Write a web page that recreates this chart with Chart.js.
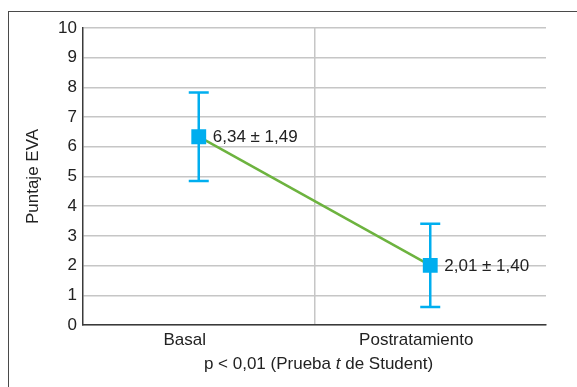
<!DOCTYPE html>
<html>
<head>
<meta charset="utf-8">
<script src="https://cdn.jsdelivr.net/npm/chart.js@4"></script>
<style>
  html, body { margin: 0; padding: 0; background: #fff; overflow: hidden; }
  .frame { position: absolute; left: 8px; top: 11px; width: 600px; height: 400px;
           border-left: 1.5px solid #4a4a4a; border-top: 1.5px solid #4a4a4a; }
  .wrap { position: absolute; left: 0; top: 0; width: 577px; height: 387px; }
</style>
</head>
<body>
<div class="frame"></div>
<div class="wrap"><canvas id="c" width="577" height="387"></canvas></div>
<script>
// valores EVA medios y desviación estándar
const categorias = ['Basal', 'Postratamiento'];
const medias = [6.34, 2.01];
const desvios = [1.49, 1.40];
const yTicks = [0, 1, 2, 3, 4, 5, 6, 7, 8, 9, 10];

const AZUL = '#00aeef';
const VERDE = '#6db33f';
const GRIS = '#c6c6c6';
const TEXTO = '#222';
const FONT = 'Liberation Sans, Arial, sans-serif';
const FS = 17;

const fmt = v => v.toFixed(2).replace('.', ',');

// barras de error + etiquetas de valor
const errorBars = {
  id: 'errorBars',
  afterDatasetsDraw(chart) {
    const { ctx, scales: { x, y } } = chart;
    ctx.save();
    ctx.strokeStyle = AZUL;
    ctx.lineWidth = 2.5;
    medias.forEach((m, i) => {
      const px = x.getPixelForValue(i);
      const top = y.getPixelForValue(m + desvios[i]);
      const bot = y.getPixelForValue(m - desvios[i]);
      ctx.beginPath();
      ctx.moveTo(px, top); ctx.lineTo(px, bot);
      ctx.moveTo(px - 10, top); ctx.lineTo(px + 10, top);
      ctx.moveTo(px - 10, bot); ctx.lineTo(px + 10, bot);
      ctx.stroke();
    });
    ctx.restore();
  },
  afterDraw(chart) {
    const { ctx, scales: { x, y } } = chart;
    ctx.save();
    ctx.fillStyle = TEXTO;
    ctx.font = FS + 'px ' + FONT;
    ctx.textBaseline = 'middle';
    ctx.textAlign = 'left';
    medias.forEach((m, i) => {
      ctx.fillText(fmt(m) + ' \u00b1 ' + fmt(desvios[i]), x.getPixelForValue(i) + 14, y.getPixelForValue(m) + 1);
    });
    // título eje x con la t en cursiva
    const parts = [['p < 0,01 (Prueba ', 'normal'], ['t', 'italic'], [' de Student)', 'normal']];
    let w = 0;
    parts.forEach(p => { ctx.font = p[1] + ' ' + FS + 'px ' + FONT; w += ctx.measureText(p[0]).width; });
    let cx = (x.left + x.right) / 2 - w / 2 + 4;
    parts.forEach(p => {
      ctx.font = p[1] + ' ' + FS + 'px ' + FONT;
      ctx.fillText(p[0], cx, 364);
      cx += ctx.measureText(p[0]).width;
    });
    ctx.restore();
  }
};

new Chart(document.getElementById('c'), {
  type: 'line',
  data: {
    labels: categorias,
    datasets: [{
      data: medias,
      borderColor: VERDE,
      borderWidth: 2.5,
      pointStyle: 'rect',
      pointRadius: 10.5,
      pointBackgroundColor: AZUL,
      pointBorderColor: AZUL,
      pointBorderWidth: 0,
      tension: 0
    }]
  },
  options: {
    responsive: false,
    animation: false,
    layout: { padding: { top: 28, right: 31, left: 0, bottom: 0 } },
    plugins: { legend: { display: false }, tooltip: { enabled: false } },
    scales: {
      x: {
        offset: true,
        grid: {
          offset: true,
          drawTicks: false,
          lineWidth: 1.5,
          color: ctx => ctx.index === 1 ? GRIS : 'rgba(0,0,0,0)'
        },
        border: { color: '#3a3a3a', width: 1.5 },
        ticks: { color: TEXTO, font: { family: FONT, size: FS }, padding: 5, labelOffset: -14 },
        afterFit: s => { s.height = 62; }
      },
      y: {
        min: 0,
        max: 10,
        afterBuildTicks: s => { s.ticks = yTicks.map(v => ({ value: v })); },
        grid: { color: GRIS, lineWidth: 1.5, drawTicks: false },
        border: { color: '#3a3a3a', width: 1.5 },
        ticks: { color: TEXTO, font: { family: FONT, size: FS }, padding: 6 },
        title: { display: true, text: 'Puntaje EVA', color: TEXTO, font: { family: FONT, size: FS }, padding: { top: 23, bottom: 0 } },
        afterFit: s => { s.width = 83; }
      }
    }
  },
  plugins: [errorBars]
});
</script>
</body>
</html>
